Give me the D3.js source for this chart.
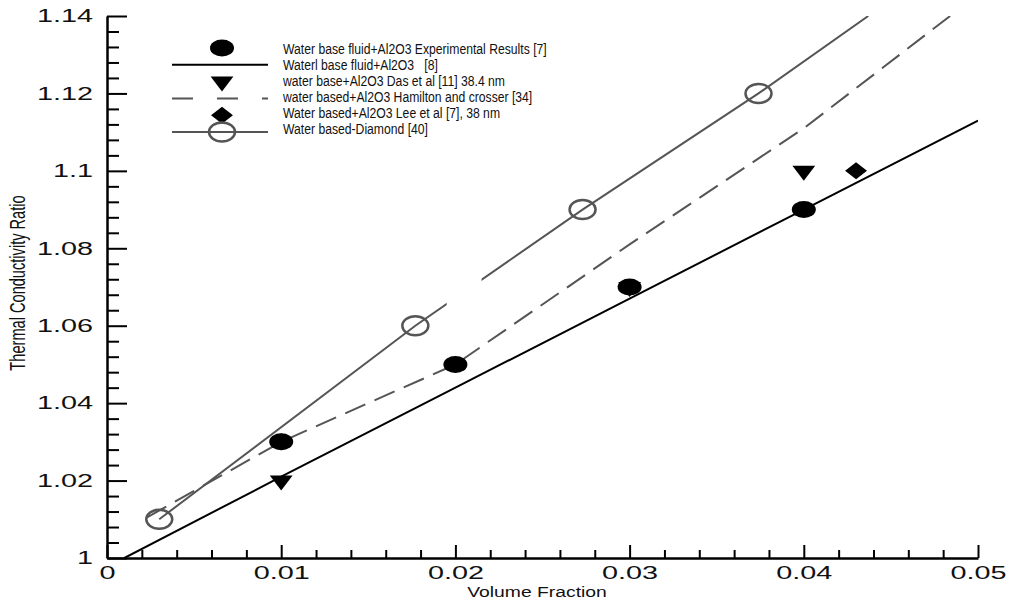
<!DOCTYPE html>
<html>
<head>
<meta charset="utf-8">
<script src="https://cdn.jsdelivr.net/npm/d3@7"></script>
<style>
  body { margin: 0; background: #fff; }
  text { font-family: "Liberation Sans", Arial, sans-serif; }
</style>
</head>
<body>
<div id="chart"></div>
<script>
// axis ticks
const xTicks = [0, 0.01, 0.02, 0.03, 0.04, 0.05];
const xTickLabels = ["0", "0.01", "0.02", "0.03", "0.04", "0.05"];
const yTicks = [1, 1.02, 1.04, 1.06, 1.08, 1.1, 1.12, 1.14];
const yTickLabels = ["1", "1.02", "1.04", "1.06", "1.08", "1.1", "1.12", "1.14"];

// Water base fluid+Al2O3 experimental results [7]
const expX = [0.01, 0.02, 0.03, 0.04];
const expY = [1.03, 1.05, 1.07, 1.09];
// Waterl base fluid+Al2O3 [8] (solid line)
const refX = [0.001, 0.01, 0.02, 0.03, 0.04, 0.05];
const refY = [1.0, 1.021, 1.044, 1.067, 1.090, 1.113];
// Das et al [11]
const dasX = [0.01, 0.03, 0.04];
const dasY = [1.02, 1.07, 1.10];
// Hamilton and crosser [34] (dashed)
const hcX = [0.0023, 0.01, 0.02, 0.03, 0.04, 0.0484];
const hcY = [1.0105, 1.030, 1.050, 1.081, 1.111, 1.14];
// Lee et al [7]
const leeX = [0.01, 0.02, 0.043];
const leeY = [1.03, 1.05, 1.10];
// Water based-Diamond [40]
const diaX = [0.003, 0.0177, 0.0273, 0.0374];
const diaY = [1.01, 1.06, 1.09, 1.12];
const diaLineX = [0.003, 0.0177, 0.0273, 0.0374, 0.0437];
const diaLineY = [1.01, 1.06, 1.09, 1.12, 1.14];

const legendLabels = [
  "Water base fluid+Al2O3 Experimental Results [7]",
  "Waterl base fluid+Al2O3   [8]",
  "water base+Al2O3 Das et al [11] 38.4 nm",
  "water based+Al2O3 Hamilton and crosser [34]",
  "Water based+Al2O3 Lee et al [7], 38 nm",
  "Water based-Diamond [40]"
];

const W = 1011, H = 600;
const plotL = 107, plotR = 978, plotT = 16, plotB = 558;
const grey = "#555";
const stretch = 1.6;   // the original picture is wide-stretched

const svg = d3.select("#chart").append("svg")
  .attr("width", W).attr("height", H);

const x = d3.scaleLinear().domain([0, 0.05]).range([plotL, plotR]);
const y = d3.scaleLinear().domain([1, 1.14]).range([plotB, plotT]);

const pts = (xs, ys) => xs.map((v, i) => [v, ys[i]]);

svg.append("clipPath").attr("id", "plot")
  .append("rect")
  .attr("x", plotL).attr("y", plotT)
  .attr("width", plotR - plotL).attr("height", plotB - plotT);

const line = d3.line().x(d => x(d[0])).y(d => y(d[1]));
const lines = svg.append("g").attr("clip-path", "url(#plot)").attr("fill", "none");

lines.append("path")
  .attr("d", line(pts(refX, refY)))
  .attr("stroke", "#000").attr("stroke-width", 2);

lines.append("path")
  .attr("d", line(pts(hcX, hcY)))
  .attr("stroke", grey).attr("stroke-width", 2)
  .attr("stroke-dasharray", "22,10");

lines.append("path")
  .attr("d", line(pts(diaLineX, diaLineY)))
  .attr("stroke", grey).attr("stroke-width", 2);

// small blank label box that breaks the diamond line in the original
svg.append("rect")
  .attr("x", x(0.0195)).attr("y", y(1.075))
  .attr("width", x(0.0215) - x(0.0195)).attr("height", y(1.063) - y(1.075))
  .attr("fill", "#fff");

// marker helpers
function circleMark(g, cx, cy, filled) {
  g.append("ellipse")
    .attr("cx", cx).attr("cy", cy)
    .attr("rx", filled ? 12 : 13).attr("ry", filled ? 8.5 : 9.5)
    .attr("fill", filled ? "#000" : "none")
    .attr("stroke", filled ? "none" : grey)
    .attr("stroke-width", 2.5);
}
function triMark(g, cx, cy) {
  g.append("path")
    .attr("d", d3.symbol(d3.symbolTriangle, 100)())
    .attr("transform", `translate(${cx},${cy}) scale(1.5,1.14) rotate(180)`)
    .attr("fill", "#000");
}
function diamondMark(g, cx, cy) {
  g.append("path")
    .attr("d", d3.symbol(d3.symbolSquare, 100)())
    .attr("transform", `translate(${cx},${cy}) scale(1.55,1.2) rotate(45)`)
    .attr("fill", "#000");
}

const marks = svg.append("g");
pts(leeX, leeY).forEach(d => diamondMark(marks, x(d[0]), y(d[1])));
pts(expX, expY).forEach(d => circleMark(marks, x(d[0]), y(d[1]), true));
pts(dasX, dasY).forEach(d => triMark(marks, x(d[0]), y(d[1])));
pts(diaX, diaY).forEach(d => circleMark(marks, x(d[0]), y(d[1]), false));

// axes
const minorX = d3.range(0, 0.0501, 0.002).filter(v => Math.abs(v / 0.01 - Math.round(v / 0.01)) > 1e-6);
const minorY = d3.range(1, 1.1401, 0.004).filter(v => Math.abs((v - 1) / 0.02 - Math.round((v - 1) / 0.02)) > 1e-6);

const yAxis = svg.append("g")
  .attr("transform", `translate(${plotL},0)`)
  .call(d3.axisLeft(y).tickValues(yTicks)
    .tickFormat((d, i) => yTickLabels[i])
    .tickSize(-20).tickSizeOuter(0).tickPadding(14));
yAxis.append("g").call(d3.axisLeft(y).tickValues(minorY).tickFormat("").tickSize(-12))
  .call(g => g.select(".domain").remove());

const xAxis = svg.append("g")
  .attr("transform", `translate(0,${plotB})`)
  .call(d3.axisBottom(x).tickValues(xTicks)
    .tickFormat((d, i) => xTickLabels[i])
    .tickSize(-13).tickSizeOuter(0).tickPadding(8));
xAxis.append("g").call(d3.axisBottom(x).tickValues(minorX).tickFormat("").tickSize(-8))
  .call(g => g.select(".domain").remove());

[yAxis, xAxis].forEach(ax => {
  ax.select(".domain").attr("stroke-width", 2.5);
  ax.selectAll(".tick line").attr("stroke-width", 2);
  ax.selectAll(".tick text")
    .attr("font-size", 18)
    .attr("font-family", "Liberation Sans, Arial, sans-serif")
    .attr("fill", "#111");
});
yAxis.selectAll(".tick text")
  .attr("x", -14 / stretch)
  .attr("transform", `scale(${stretch},1)`);
xAxis.selectAll(".tick text")
  .attr("transform", `scale(${stretch},1)`);

// axis titles
svg.append("text")
  .attr("transform", `translate(537,597) scale(1.38,1)`)
  .attr("text-anchor", "middle")
  .attr("font-size", 14)
  .attr("fill", "#111")
  .text("Volume Fraction");

svg.append("text")
  .attr("transform", `translate(25,283) scale(1.5,1) rotate(-90)`)
  .attr("text-anchor", "middle")
  .attr("font-size", 14.6)
  .attr("fill", "#111")
  .text("Thermal Conductivity Ratio");

// legend
const legend = svg.append("g");
const lx0 = 172, lx1 = 268, lcx = 222, ltx = 283;
const symRow = i => 48 + i * 16.8;

circleMark(legend, lcx, symRow(0), true);
legend.append("line").attr("x1", lx0).attr("x2", lx1)
  .attr("y1", symRow(1)).attr("y2", symRow(1))
  .attr("stroke", "#000").attr("stroke-width", 2);
triMark(legend, lcx, symRow(2));
legend.append("line").attr("x1", lx0).attr("x2", lx1)
  .attr("y1", symRow(3)).attr("y2", symRow(3))
  .attr("stroke", grey).attr("stroke-width", 2)
  .attr("stroke-dasharray", "21,24");
diamondMark(legend, lcx, symRow(4));
legend.append("line").attr("x1", lx0).attr("x2", lx1)
  .attr("y1", symRow(5)).attr("y2", symRow(5))
  .attr("stroke", grey).attr("stroke-width", 2);
circleMark(legend, lcx, symRow(5), false);

const legendScale = 0.87;
legend.selectAll("text.lab")
  .data(legendLabels)
  .enter()
  .append("text")
  .attr("class", "lab")
  .attr("transform", (d, i) => `translate(${ltx},${54 + i * 16}) scale(${legendScale},1)`)
  .attr("font-size", 14)
  .attr("fill", "#111")
  .style("white-space", "pre")
  .text(d => d);
</script>
</body>
</html>
